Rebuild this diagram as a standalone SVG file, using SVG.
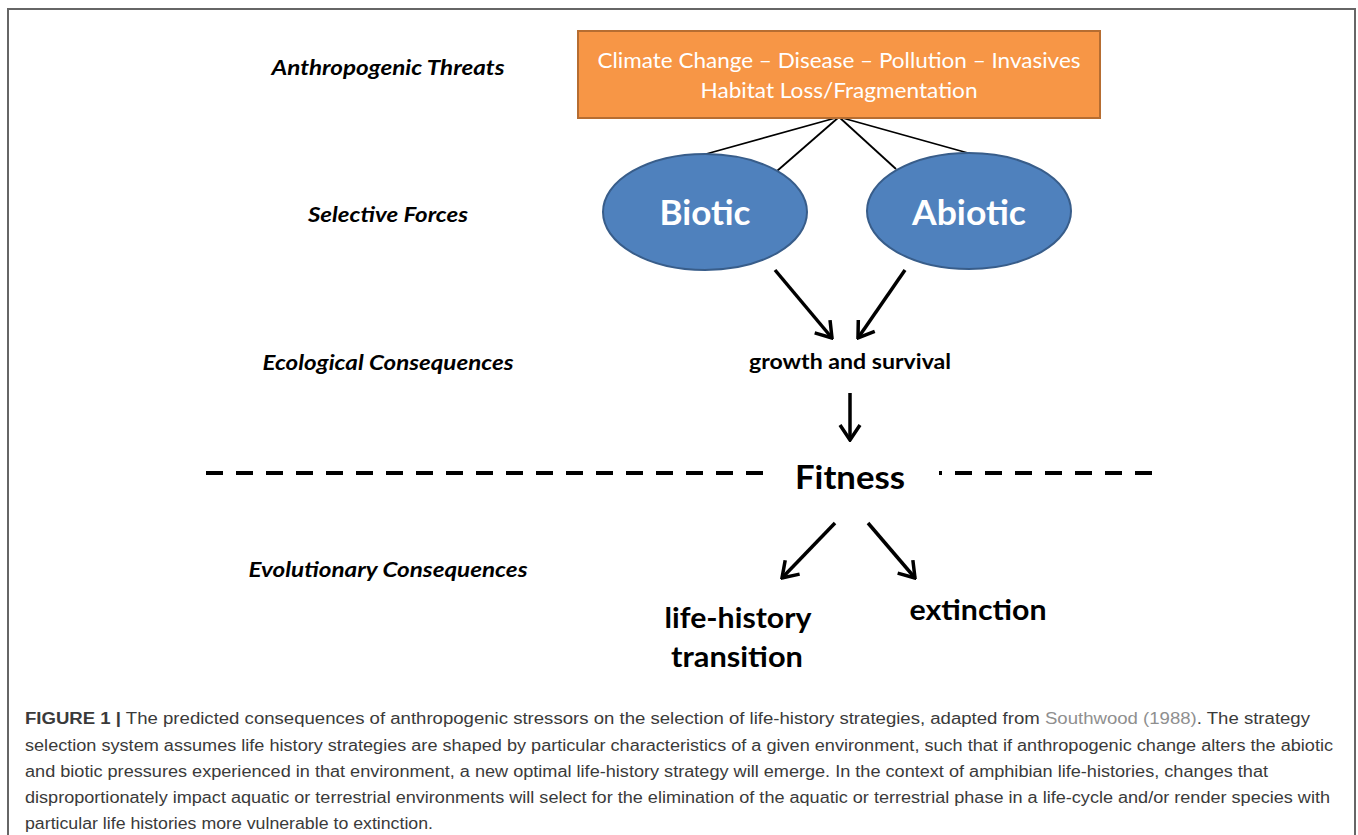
<svg xmlns="http://www.w3.org/2000/svg" width="1358" height="835" viewBox="0 0 1358 835">
<defs>
<style>
.lbl{font-family:Lato,"Open Sans","Liberation Sans",sans-serif;font-weight:bold;font-style:italic;font-size:20px;fill:#000;text-anchor:middle}
.box{fill:#F79646;stroke:#B66D31;stroke-width:2}
.boxt{font-family:Lato,"Open Sans","Liberation Sans",sans-serif;font-size:21px;fill:#fff;text-anchor:middle}
.ell{fill:#4F81BD;stroke:#385D8A;stroke-width:2}
.ellt{font-family:Lato,"Open Sans","Liberation Sans",sans-serif;font-weight:bold;font-size:34px;fill:#fff;text-anchor:middle}
.bt{font-family:Lato,"Open Sans","Liberation Sans",sans-serif;font-weight:bold;fill:#000;text-anchor:middle}
.thin{stroke:#000;stroke-width:1.8;fill:none}
.arr{stroke:#000;stroke-width:3.5;fill:none;marker-end:url(#ah)}
.dash{stroke:#000;stroke-width:4;stroke-dasharray:17 13;fill:none}
.cap{font-family:"Liberation Sans",Arial,sans-serif;font-size:16px;fill:#3a3a3a}
.link{fill:#8f8f8f}
</style>
<marker id="ah" markerUnits="userSpaceOnUse" viewBox="-18 -12 20 24" refX="0" refY="0" markerWidth="20" markerHeight="24" orient="auto">
<path d="M-15,-10 L0,0 L-15,10" fill="none" stroke="#000" stroke-width="3.5"/>
</marker>
</defs>
<rect width="1358" height="835" fill="#fff"/>
<path d="M8,840 V9 H1355 V840" fill="none" stroke="#666" stroke-width="2"/>

<g id="labels">
<text class="lbl" x="388" y="75" textLength="233" lengthAdjust="spacingAndGlyphs">Anthropogenic Threats</text>
<text class="lbl" x="388" y="222" textLength="160" lengthAdjust="spacingAndGlyphs">Selective Forces</text>
<text class="lbl" x="388" y="370" textLength="251" lengthAdjust="spacingAndGlyphs">Ecological Consequences</text>
<text class="lbl" x="388" y="577" textLength="279" lengthAdjust="spacingAndGlyphs">Evolutionary Consequences</text>
</g>

<g id="connectors">
<path class="thin" d="M839,117 L706,154"/>
<path class="thin" d="M839,117 L777,171"/>
<path class="thin" d="M839,117 L896,169"/>
<path class="thin" d="M839,117 L968,153"/>
<path class="arr" d="M775,270 L832,338"/>
<path class="arr" d="M905,270 L858,338"/>
<path class="arr" d="M850,393 L850,440"/>
<path class="arr" d="M835,523 L782,578"/>
<path class="arr" d="M868,523 L915,578"/>
<path class="dash" d="M206,473 H765"/>
<path class="dash" d="M939,473 H1152" stroke-dashoffset="14"/>
</g>

<g id="threats">
<rect class="box" x="578" y="31" width="522" height="87"/>
<text class="boxt" x="839" y="68" textLength="483" lengthAdjust="spacingAndGlyphs">Climate Change – Disease – Pollution – Invasives</text>
<text class="boxt" x="839" y="98" textLength="277" lengthAdjust="spacingAndGlyphs">Habitat Loss/Fragmentation</text>
</g>

<g id="biotic">
<ellipse class="ell" cx="705" cy="212" rx="102" ry="58"/>
<text class="ellt" x="705" y="225" textLength="91" lengthAdjust="spacingAndGlyphs">Biotic</text>
</g>

<g id="abiotic">
<ellipse class="ell" cx="969" cy="211" rx="102" ry="58"/>
<text class="ellt" x="969" y="225" textLength="114" lengthAdjust="spacingAndGlyphs">Abiotic</text>
</g>

<g id="growth">
<text class="bt" x="850" y="369" font-size="20" textLength="202" lengthAdjust="spacingAndGlyphs">growth and survival</text>
</g>

<g id="fitness">
<text class="bt" x="850" y="489" font-size="32" textLength="110" lengthAdjust="spacingAndGlyphs">Fitness</text>
</g>

<g id="lht">
<text class="bt" x="738" y="628" font-size="28" textLength="147" lengthAdjust="spacingAndGlyphs">life-history</text>
<text class="bt" x="737" y="667" font-size="28" textLength="132" lengthAdjust="spacingAndGlyphs">transition</text>
</g>

<g id="extinction">
<text class="bt" x="978" y="620" font-size="28" textLength="137" lengthAdjust="spacingAndGlyphs">extinction</text>
</g>

<g id="caption">
<text class="cap" x="25" y="724" textLength="1285" lengthAdjust="spacingAndGlyphs"><tspan font-weight="bold">FIGURE 1 |</tspan> The predicted consequences of anthropogenic stressors on the selection of life-history strategies, adapted from <tspan class="link">Southwood (1988)</tspan>. The strategy</text>
<text class="cap" x="25" y="751" textLength="1308" lengthAdjust="spacingAndGlyphs">selection system assumes life history strategies are shaped by particular characteristics of a given environment, such that if anthropogenic change alters the abiotic</text>
<text class="cap" x="25" y="777" textLength="1243" lengthAdjust="spacingAndGlyphs">and biotic pressures experienced in that environment, a new optimal life-history strategy will emerge. In the context of amphibian life-histories, changes that</text>
<text class="cap" x="25" y="803" textLength="1305" lengthAdjust="spacingAndGlyphs">disproportionately impact aquatic or terrestrial environments will select for the elimination of the aquatic or terrestrial phase in a life-cycle and/or render species with</text>
<text class="cap" x="25" y="829" textLength="408" lengthAdjust="spacingAndGlyphs">particular life histories more vulnerable to extinction.</text>
</g>
</svg>
